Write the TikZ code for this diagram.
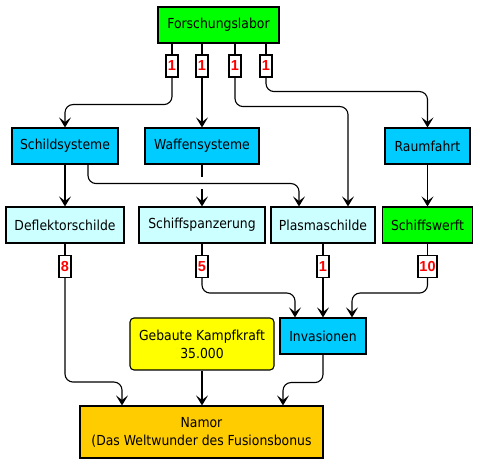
\documentclass[tikz,border=0pt]{standalone}
\usepackage{fontspec}
\setmainfont{DejaVu Sans Condensed}
\newfontfamily\labfont{Liberation Sans}
\usetikzlibrary{arrows.meta}
\definecolor{cgreen}{HTML}{00FF00}
\definecolor{cblue}{HTML}{00CCFF}
\definecolor{clight}{HTML}{CCFFFF}
\definecolor{cyellow}{HTML}{FFFF00}
\definecolor{corange}{HTML}{FFCC00}
\definecolor{cred}{HTML}{FF0000}
\newcommand{\boxfont}{\fontsize{13.8}{18}\selectfont}
\newcommand{\labsize}{\labfont\bfseries\fontsize{14.5}{15}\selectfont}
\tikzset{
  box/.style={draw=black, line width=1.1pt, inner sep=0pt, align=center,
    font=\boxfont, minimum height=36pt},
  lab/.style={draw=black, fill=white, line width=1.1pt, inner sep=0pt,
    minimum height=22pt, minimum width=12pt, text=cred, font=\labsize},
  conn/.style={line width=1.1pt, draw=black, rounded corners=8pt},
  arr/.style={conn, -{Stealth[length=10pt,width=12pt,inset=4.5pt]}},
}
\begin{document}
\begin{tikzpicture}[x=1pt,y=-1pt]
\useasboundingbox (0,0) rectangle (480,465);
% nodes
\node[box, fill=cgreen, minimum width=121pt] (fo) at (218.5,25) {Forschungslabor};
\node[box, fill=cblue, minimum width=106pt] (sch) at (65,146) {Schildsysteme};
\node[box, fill=cblue, minimum width=114pt] (waf) at (202,146) {Waffensysteme};
\node[box, fill=cblue, minimum width=85pt] (rau) at (427.5,146) {Raumfahrt};
\node[box, fill=clight, minimum width=118pt] (def) at (65,225) {Deflektorschilde};
\node[box, fill=clight, minimum width=126pt] (pan) at (202,225) {Schiffspanzerung};
\node[box, fill=clight, minimum width=104pt] (pla) at (323,225) {Plasmaschilde};
\node[box, fill=cgreen, minimum width=90pt] (wer) at (427.5,225) {Schiffswerft};
\node[box, fill=cblue, minimum width=86pt] (inv) at (323,336) {Invasionen};
\node[box, fill=cyellow, minimum width=144pt, minimum height=52pt, rounded corners=4pt] (geb) at (202,344) {Gebaute Kampfkraft\\35.000};
\node[box, fill=corange, minimum width=243pt, minimum height=52pt] (nam) at (201.5,432) {Namor\\(Das Weltwunder des Fusionsbonus};
% labels
\node[lab] (l1) at (172,66) {1};
\node[lab] (l2) at (202,66) {1};
\node[lab] (l3) at (235,66) {1};
\node[lab] (l4) at (266,66) {1};
\node[lab] (l8) at (65,266.5) {8};
\node[lab] (l5) at (202,266.5) {5};
\node[lab] (l1b) at (323,266.5) {1};
\node[lab, minimum width=19pt] (l10) at (427.5,266.5) {10};
% connectors from Forschungslabor
\draw[conn] (fo.south -| l1) -- (l1.north);
\draw[conn] (fo.south -| l2) -- (l2.north);
\draw[conn] (fo.south -| l3) -- (l3.north);
\draw[conn] (fo.south -| l4) -- (l4.north);
\draw[arr] (l1.south) -- ++(0,27) -| (sch.north);
\draw[arr] (l2.south) -- (waf.north);
\draw[arr] (l3.south) -- ++(0,29) -| ([xshift=25pt]pla.north);
\draw[arr] (l4.south) -- ++(0,14) -| (rau.north);
% second level
\draw[arr] (sch.south) -- (def.north);
\coordinate (gapA) at (202,177);
\coordinate (gapB) at (202,189);
\draw[conn] (waf.south) -- (gapA);
\draw[arr] (gapB) -- (pan.north);
\draw[arr] ([xshift=23pt]sch.south) -- ++(0,19) -| ([xshift=-24pt]pla.north);
\draw[arr] (rau.south) -- (wer.north);
% third level
\draw[conn] (def.south) -- (l8.north);
\draw[conn] (pan.south) -- (l5.north);
\draw[conn] (pla.south) -- (l1b.north);
\draw[conn] (wer.south) -- (l10.north);
\draw[arr] (l8.south) -- ++(0,104) -| ([xshift=-79.5pt]nam.north);
\draw[arr] (l5.south) -- ++(0,15) -| ([xshift=-28pt]inv.north);
\draw[arr] (l1b.south) -- (inv.north);
\draw[arr] (l10.south) -- ++(0,15) -| ([xshift=29pt]inv.north);
\draw[arr] (geb.south) -- (geb.south |- nam.north);
\draw[arr] (inv.south) -- ++(0,28) -| ([xshift=81.5pt]nam.north);
\end{tikzpicture}
\end{document}
